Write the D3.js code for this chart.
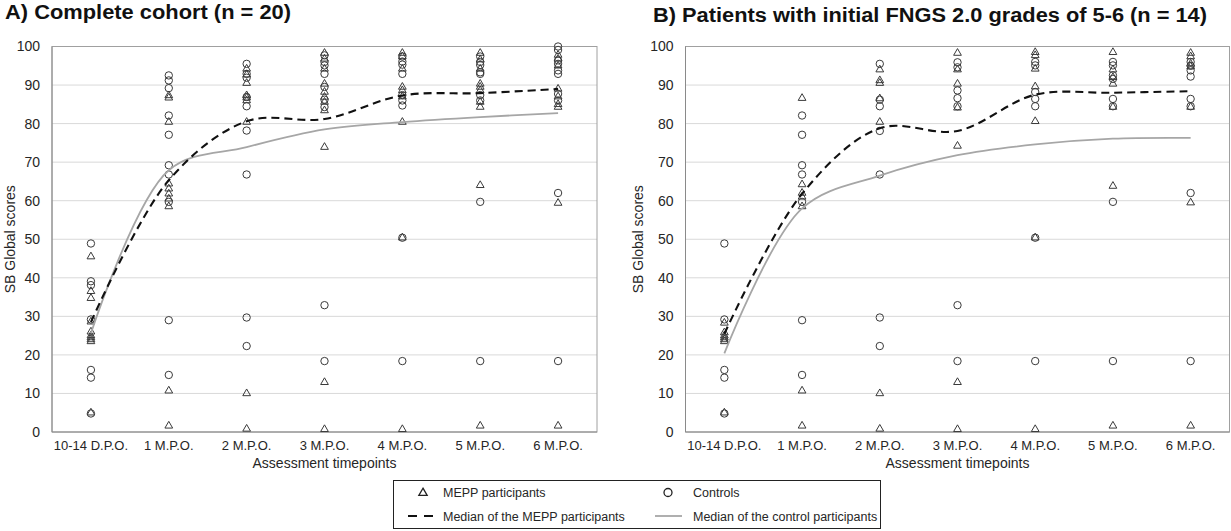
<!DOCTYPE html>
<html><head><meta charset="utf-8">
<script src="https://cdn.jsdelivr.net/npm/d3@7"></script>
<style>
body{margin:0;background:#fff;}
svg{display:block;font-family:"Liberation Sans",Arial,sans-serif;}
</style></head>
<body>
<svg id="chart" width="1231" height="531"></svg>
<script>
const categories = ["10-14 D.P.O.","1 M.P.O.","2 M.P.O.","3 M.P.O.","4 M.P.O.","5 M.P.O.","6 M.P.O."];
const yTicks = [0,10,20,30,40,50,60,70,80,90,100];

// Panel A — Complete cohort
const meppA = [
  [45.5,36.5,34.7,28.6,26,25,24.5,24,23.5,5],
  [87.3,86.7,80.4,64.4,63.1,61.8,60.5,58.5,10.7,1.6],
  [94.2,92.7,90.5,87.3,86.7,86,80.4,10,0.8],
  [98.3,96.8,94.2,90.3,88.2,86.9,85.6,83.4,73.9,12.9,0.7],
  [98.3,97.4,94.2,89.5,88.6,87,80.4,50.4,0.7],
  [98.3,96.6,94.2,90.3,89.5,88.6,85.6,84.3,64,1.6],
  [97.8,96.8,95,89,87,85,84.3,59.4,1.6]
];
const ctrlA = [
  [48.9,39.1,38.1,29.2,16.1,14.1,4.8],
  [92.5,91.2,89.2,82.1,77.1,69.2,66.8,59.7,29,14.8],
  [95.5,92.9,91.9,86.9,84.5,78.2,66.8,29.7,22.3],
  [97.7,96,95.1,92.9,89.5,86.2,84.3,32.9,18.4],
  [97.4,96.1,95.3,92.9,87.4,86,84.7,50.4,18.4],
  [97.4,96,95.2,93.3,92.9,87.4,86,59.7,18.4],
  [100,99.1,96.4,95.5,93.8,92.9,87.7,86,62,18.4]
];
const meppMedA = [28.5,65.3,80.6,81.2,87.3,87.9,89.0];
const ctrlMedA = [25.6,67.9,73.9,78.5,80.4,81.7,82.7];

// Panel B — initial FNGS 2.0 grades 5-6
const meppB = [
  [28.3,25.8,25,24.5,24,23.5,5],
  [86.6,64.2,62,61,58.5,10.7,1.6],
  [94,91.2,90.5,86.5,80.4,10,0.8],
  [98.3,94,90.3,84.1,74.2,12.9,0.7],
  [98.5,97.7,94.2,89.6,80.6,50.4,0.7],
  [98.5,94,92,90.3,84.3,63.8,1.6],
  [98.3,97.4,95.5,94.8,84.3,59.5,1.6]
];
const ctrlB = [
  [48.9,29.2,16.1,14.1,4.8],
  [82.1,77.1,69.2,66.8,59.7,29,14.8],
  [95.5,86.2,84.5,78.1,66.8,29.7,22.3],
  [95.9,94.6,88.6,86.6,84.5,32.9,18.4],
  [96,95.1,88.2,86.4,84.5,50.4,18.4],
  [96,95.1,92.5,91.6,86.4,84.5,59.7,18.4],
  [96,95,93.8,92.2,86.4,84.5,62,18.4]
];
const meppMedB = [25.5,61.8,78.8,78.1,87.5,88.0,88.4];
const ctrlMedB = [20.4,58.0,66.5,71.8,74.6,76.1,76.3];

const titles = ["A) Complete cohort (n = 20)", "B) Patients with initial FNGS 2.0 grades of 5-6 (n = 14)"];
const xTitle = "Assessment timepoints";
const yTitle = "SB Global scores";
const legendLabels = ["MEPP participants","Controls","Median of the MEPP participants","Median of the control participants"];

const svg = d3.select("#chart");
const FONT = '"Liberation Sans",Arial,sans-serif';

function panel(cfg){
  const x = d3.scaleBand().domain(categories).range([cfg.x0, cfg.x1]);
  const cx = c => x(c) + x.bandwidth()/2;
  const y = d3.scaleLinear().domain([0,100]).range([432, 46.5]);
  const g = svg.append("g");

  // gridlines
  g.selectAll("line.grid").data(yTicks.filter(t=>t>0 && t<100)).join("line")
    .attr("x1", cfg.x0).attr("x2", cfg.x1)
    .attr("y1", d=>y(d)).attr("y2", d=>y(d))
    .attr("stroke", "#d9d9d9").attr("stroke-width", 1);
  // frame
  g.append("rect").attr("x", cfg.x0).attr("y", y(100))
    .attr("width", cfg.x1-cfg.x0).attr("height", y(0)-y(100))
    .attr("fill","none").attr("stroke","#a0a0a0").attr("stroke-width",1);
  g.append("line").attr("x1",cfg.x0).attr("x2",cfg.x0).attr("y1",y(100)).attr("y2",y(0))
    .attr("stroke","#8a8a8a");
  g.append("line").attr("x1",cfg.x0).attr("x2",cfg.x1).attr("y1",y(0)).attr("y2",y(0))
    .attr("stroke","#8a8a8a");

  // y axis
  const ya = g.append("g").attr("transform", `translate(${cfg.x0},0)`)
    .call(d3.axisLeft(y).tickValues(yTicks).tickSize(0).tickPadding(12));
  ya.select(".domain").remove();
  ya.selectAll("text").attr("font-size", 14).attr("font-family", FONT).attr("fill","#262626");

  // x axis
  const xa = g.append("g").attr("transform", `translate(0,${y(0)})`)
    .call(d3.axisBottom(x).tickSize(0).tickPadding(9));
  xa.select(".domain").remove();
  xa.selectAll("text").attr("font-size", 13).attr("font-family", FONT).attr("fill","#262626");

  // axis titles
  g.append("text").attr("x", (cfg.x0+cfg.x1)/2).attr("y", 468)
    .attr("text-anchor","middle").attr("font-size",14).attr("fill","#262626").text(xTitle);
  g.append("text").attr("transform", `translate(${cfg.yTitleX},${(y(0)+y(100))/2}) rotate(-90)`)
    .attr("text-anchor","middle").attr("font-size",14).attr("fill","#262626").text(yTitle);

  // title
  g.append("text").attr("x", cfg.titleX).attr("y", cfg.titleY)
    .attr("font-size", 20).attr("font-weight","bold").attr("fill","#111")
    .attr("textLength", cfg.titleLen).attr("lengthAdjust","spacingAndGlyphs")
    .text(cfg.title);

  // points
  const ctrlPts = cfg.ctrl.flatMap((arr,i)=>arr.map(v=>({c:categories[i], v})));
  const meppPts = cfg.mepp.flatMap((arr,i)=>arr.map(v=>({c:categories[i], v})));
  g.selectAll("circle.ctrl").data(ctrlPts).join("circle")
    .attr("cx", d=>cx(d.c)).attr("cy", d=>y(d.v)).attr("r", 3.7)
    .attr("fill","none").attr("stroke","#3a3a3a").attr("stroke-width",1);
  const tri = d3.symbol().type(d3.symbolTriangle).size(26);
  g.selectAll("path.mepp").data(meppPts).join("path")
    .attr("d", tri).attr("transform", d=>`translate(${cx(d.c)},${y(d.v)})`)
    .attr("fill","none").attr("stroke","#3a3a3a").attr("stroke-width",1);

  // median lines
  const line = d3.line().x((d,i)=>cx(categories[i])).y(d=>y(d)).curve(d3.curveCatmullRom.alpha(0.5));
  g.append("path").attr("d", line(cfg.ctrlMed)).attr("fill","none")
    .attr("stroke","#a6a6a6").attr("stroke-width",1.8);
  g.append("path").attr("d", line(cfg.meppMed)).attr("fill","none")
    .attr("stroke","#111").attr("stroke-width",2.1).attr("stroke-dasharray","8,5");
}

panel({x0:52, x1:597, yTitleX:14.5, titleX:5, titleY:19, titleLen:286, title:titles[0],
  mepp:meppA, ctrl:ctrlA, meppMed:meppMedA, ctrlMed:ctrlMedA});
panel({x0:685.5, x1:1229.5, yTitleX:643, titleX:653, titleY:21.5, titleLen:554, title:titles[1],
  mepp:meppB, ctrl:ctrlB, meppMed:meppMedB, ctrlMed:ctrlMedB});

// legend
const lg = svg.append("g");
lg.append("rect").attr("x",393.5).attr("y",480.5).attr("width",487).attr("height",48)
  .attr("fill","#fff").attr("stroke","#222").attr("stroke-width",1);
lg.append("path").attr("d", d3.symbol().type(d3.symbolTriangle).size(30)())
  .attr("transform","translate(423,493)").attr("fill","none").attr("stroke","#222").attr("stroke-width",1.3);
lg.append("circle").attr("cx",668).attr("cy",492.5).attr("r",4).attr("fill","none")
  .attr("stroke","#222").attr("stroke-width",1.3);
lg.append("line").attr("x1",408).attr("x2",435).attr("y1",516).attr("y2",516)
  .attr("stroke","#111").attr("stroke-width",2.1).attr("stroke-dasharray","9,7");
lg.append("line").attr("x1",655).attr("x2",682).attr("y1",516).attr("y2",516)
  .attr("stroke","#a6a6a6").attr("stroke-width",1.8);
const lpos = [[443,497],[693,497],[443,521],[693,521]];
lg.selectAll("text").data(legendLabels).join("text")
  .attr("x",(d,i)=>lpos[i][0]).attr("y",(d,i)=>lpos[i][1])
  .attr("font-size",12.5).attr("fill","#262626").text(d=>d);
</script>
</body></html>
